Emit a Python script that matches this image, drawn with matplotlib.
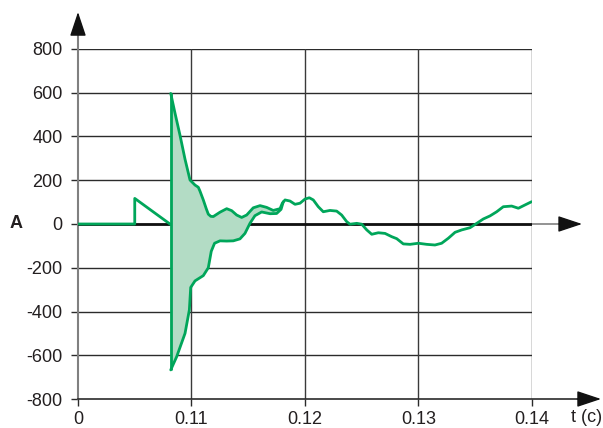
import matplotlib
matplotlib.use("Agg")
import matplotlib.pyplot as plt
import numpy as np

plt.rcParams['font.family'] = ['Liberation Sans', 'DejaVu Sans']

# ---- data ----
x_ticks = [0.10, 0.11, 0.12, 0.13, 0.14]
x_tick_labels = ['0', '0.11', '0.12', '0.13', '0.14']
y_ticks = [-800, -600, -400, -200, 0, 200, 400, 600, 800]
y_tick_labels = ['-800', '-600', '-400', '-200', '0', '200', '400', '600', '800']

pre_x = [0.100, 0.1050, 0.1050, 0.1081]
pre_y = [0, 0, 117, 0]

upper_x = [0.10817, 0.10855, 0.10899, 0.10943, 0.10987, 0.11031, 0.11060, 0.11075,
           0.11104, 0.11130, 0.11148, 0.11170, 0.11192, 0.11251, 0.11310, 0.11354,
           0.11398, 0.11442, 0.11486, 0.11544, 0.11604, 0.11662, 0.11720, 0.11764,
           0.11780, 0.11800, 0.11824, 0.11868, 0.11912, 0.11956, 0.12000, 0.12038,
           0.12073, 0.12117, 0.12161, 0.12220, 0.12279, 0.12323, 0.12367, 0.12396,
           0.12456, 0.12500, 0.12544, 0.12588, 0.12646, 0.12705, 0.12764, 0.12808,
           0.12866, 0.12925, 0.12999, 0.13072, 0.13145, 0.13204, 0.13263, 0.13322,
           0.13381, 0.13454, 0.13513, 0.13571, 0.13630, 0.13689, 0.13747, 0.13821,
           0.13880, 0.13938, 0.13997]
upper_y = [597, 506, 405, 296, 201, 178, 168, 150,
           110, 70, 45, 35, 34, 54, 70, 61,
           41, 30, 41, 74, 84, 76, 62, 68,
           70, 95, 110, 105, 90, 95, 114, 120,
           110, 79, 56, 62, 59, 41, 11, -1,
           3, -1, -27, -47, -40, -43, -58, -67,
           -91, -93, -88, -93, -96, -88, -65, -38,
           -27, -17, 3, 23, 37, 56, 79, 82,
           72, 87, 102]

lower_x = [0.10817, 0.10869, 0.10943, 0.10981, 0.10993, 0.11031, 0.11104, 0.11148,
           0.11174, 0.11203, 0.11251, 0.11310, 0.11368, 0.11427, 0.11471, 0.11515,
           0.11559, 0.11618, 0.11692, 0.11750, 0.11789, 0.11809]
lower_y = [-667, -607, -500, -393, -290, -260, -236, -200,
           -125, -88, -77, -78, -77, -68, -43, 3,
           38, 55, 47, 48, 67, 102]

LINE = '#00a65a'
FILL = '#b3dcc5'
TXT = '#231f20'

fig = plt.figure(figsize=(6.03, 4.28), dpi=100)
ax = fig.add_axes([78/603, 29/428, 454/603, 350/428])
ax.set_xlim(0.10, 0.14)
ax.set_ylim(-800, 800)
for s in ax.spines.values():
    s.set_visible(False)

# grid
for yv in y_ticks[1:]:
    ax.plot([0.10, 0.14], [yv, yv], color='#2b2b2b', lw=1.0, zorder=1)
for xv in x_ticks[1:]:
    ax.plot([xv, xv], [-800, 800], color='#3a3a3a', lw=1.0, zorder=1)

# axes lines with arrows
ax.plot([0.10, 0.10], [-800, 880], color='#808080', lw=1.5, zorder=2, clip_on=False)
ax.plot([0.10, 0.1440], [-800, -800], color='#2b2b2b', lw=1.2, zorder=2, clip_on=False)
ax.plot([0.14, 0.1425], [0, 0], color='#808080', lw=1.2, zorder=2, clip_on=False)
ax.plot([0.10, 0.14], [0, 0], color='#111111', lw=2.0, zorder=2)

ap = dict(arrowstyle='-|>,head_length=1.5,head_width=0.5', color='#111111',
          lw=1, shrinkA=0, shrinkB=0, mutation_scale=10)
ax.annotate('', xy=(0.10, 969), xytext=(0.10, 870), arrowprops=ap,
            annotation_clip=False)
ax.annotate('', xy=(0.14441, 0), xytext=(0.1424, 0), arrowprops=ap,
            annotation_clip=False)
ax.annotate('', xy=(0.14608, -800), xytext=(0.1440, -800), arrowprops=ap,
            annotation_clip=False)

# fill between envelopes
ux = np.array(upper_x)
uy = np.array(upper_y)
m = ux <= lower_x[-1]
poly_x = np.concatenate([ux[m], np.array(lower_x)[::-1]])
poly_y = np.concatenate([uy[m], np.array(lower_y)[::-1]])
ax.fill(poly_x, poly_y, color=FILL, lw=0, zorder=3)

# curves
LW = 2.0
ax.plot(pre_x, pre_y, color=LINE, lw=LW, zorder=4, solid_joinstyle='round')
ax.vlines(upper_x[0], lower_y[0], upper_y[0], color=LINE, lw=LW, zorder=4)
ax.plot(upper_x, upper_y, color=LINE, lw=LW, zorder=4, solid_joinstyle='round',
        solid_capstyle='round')
ax.plot(lower_x, lower_y, color=LINE, lw=LW, zorder=4, solid_joinstyle='round',
        solid_capstyle='round')

# ticks
ax.set_xticks(x_ticks)
ax.set_xticklabels(x_tick_labels)
ax.set_yticks(y_ticks)
ax.set_yticklabels(y_tick_labels)
ax.tick_params(axis='both', direction='out', length=5, width=1.0, color='#2b2b2b',
               labelsize=13, labelcolor=TXT)
ax.tick_params(axis='y', pad=6)
ax.tick_params(axis='x', pad=4)

fig.text(16/603, 1 - 224/428, 'A', fontsize=13, fontweight='bold', color=TXT,
         ha='center', va='center')
fig.text(587/603, 1 - 418/428, 't (c)', fontsize=13, color=TXT,
         ha='center', va='center')

fig.savefig('out.png', dpi=100)
